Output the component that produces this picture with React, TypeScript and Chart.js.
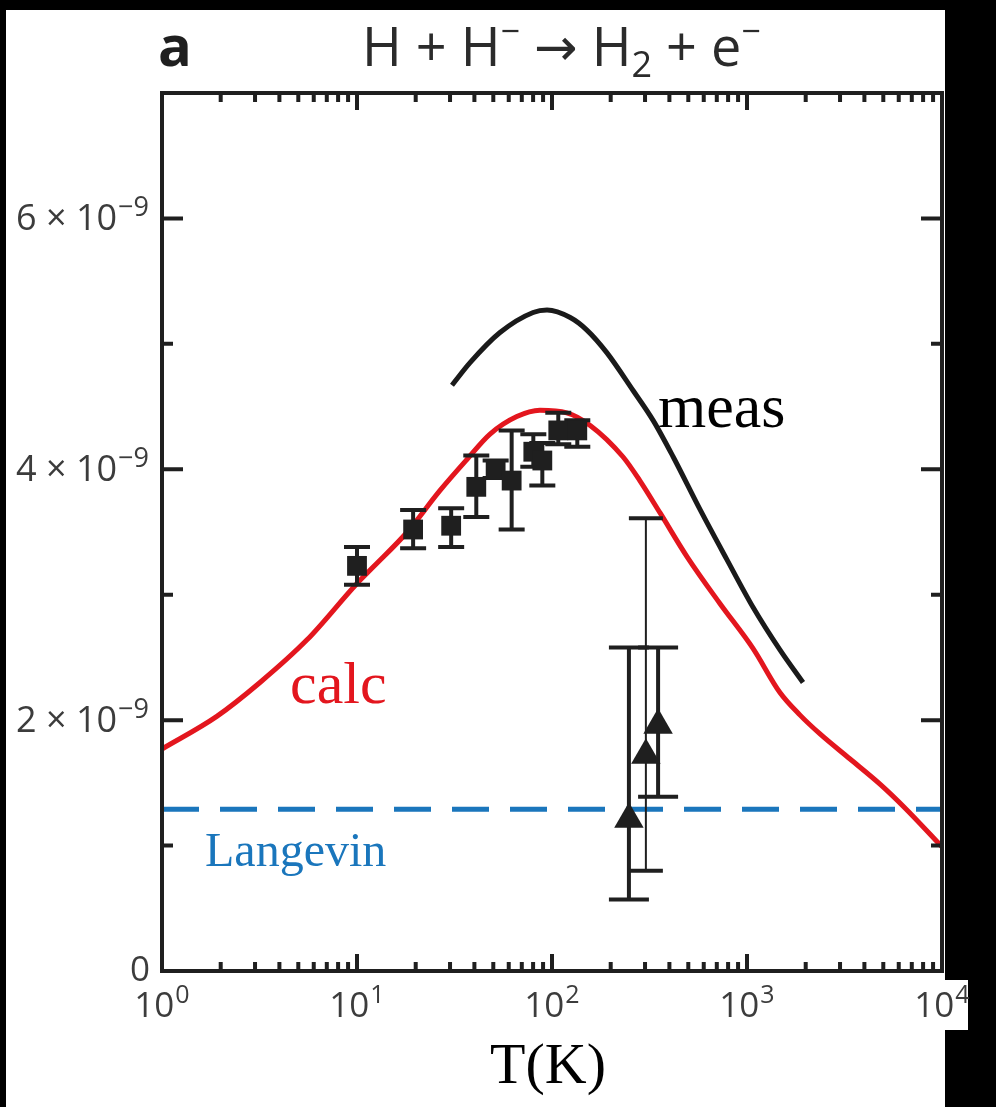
import React, { useEffect, useRef } from "react";
import { Chart, registerables } from "chart.js";

Chart.register(...registerables);

const W = 996;
const H = 1107;
const SANS = "'Open Sans', 'Noto Sans', sans-serif";
const SERIF = "'Liberation Serif', 'DejaVu Serif', serif";

// Rate coefficient in units of 1e-9 cm^3 s^-1 versus temperature T (K)
const calcT = [1, 1.91, 3.18, 5.54, 10, 12.1, 18.1, 26.6, 36.7, 48.1, 66, 86.7, 119, 157, 231, 282, 359, 494, 726, 1075, 1475, 1871, 2368, 3377, 4808, 6457, 10000];
const calcK = [1.77, 2.03, 2.3, 2.64, 3.09, 3.22, 3.5, 3.83, 4.08, 4.28, 4.42, 4.47, 4.45, 4.35, 4.1, 3.91, 3.65, 3.3, 2.93, 2.57, 2.22, 2.04, 1.89, 1.69, 1.49, 1.3, 0.99];

const measT = [30.7, 38, 54.1, 80, 94.3, 124, 151, 191, 260, 330, 418, 574, 789, 1074, 1476, 1937];
const measK = [4.67, 4.85, 5.09, 5.25, 5.27, 5.21, 5.11, 4.93, 4.63, 4.39, 4.1, 3.68, 3.28, 2.9, 2.56, 2.3];

const langevinT = [1, 10000];
const langevinK = 1.29;

// Merged-beam points (squares) with their error limits
const beamT = [10.0, 19.4, 30.4, 40.9, 51.4, 62.1, 80.2, 89.2, 107.7, 134.8];
const beamK = [3.23, 3.52, 3.55, 3.86, 4.0, 3.91, 4.14, 4.07, 4.31, 4.31];
const beamLo = [3.08, 3.37, 3.38, 3.62, 3.93, 3.52, 4.02, 3.87, 4.2, 4.18];
const beamHi = [3.38, 3.675, 3.69, 4.11, 4.07, 4.31, 4.28, 4.21, 4.45, 4.39];

// Flowing-afterglow points (triangles) with their error limits
const flowT = [248, 303, 350];
const flowK = [1.21, 1.72, 1.96];
const flowLo = [0.57, 0.8, 1.39];
const flowHi = [2.58, 3.61, 2.58];

// Axis ticks
const yMajorTicks = [0, 2, 4, 6];
const yMinorTicks = [1, 3, 5, 7];
const xDecades = [0, 1, 2, 3, 4];

const INK = "#1f1f1f";
const LABEL = "#3c3c3c";

const zip = (xs: number[], ys: number[]) => xs.map((x, i) => ({ x, y: ys[i] }));

function drawPower(
  ctx: CanvasRenderingContext2D,
  base: string,
  exp: string,
  x: number,
  y: number,
  align: "right" | "center",
  baseSize: number,
  expSize: number,
  rise: number
) {
  ctx.font = `${baseSize}px ${SANS}`;
  const bw = ctx.measureText(base).width;
  ctx.font = `${expSize}px ${SANS}`;
  const ew = ctx.measureText(exp).width;
  const gap = 1;
  const total = bw + gap + ew;
  const x0 = align === "right" ? x - total : x - total / 2;
  ctx.textAlign = "left";
  ctx.textBaseline = "alphabetic";
  ctx.font = `${baseSize}px ${SANS}`;
  ctx.fillText(base, x0, y);
  ctx.font = `${expSize}px ${SANS}`;
  ctx.fillText(exp, x0 + bw + gap, y - rise);
}

const backdrop = {
  id: "backdrop",
  beforeDraw(chart: any) {
    const ctx = chart.ctx as CanvasRenderingContext2D;
    ctx.save();
    ctx.fillStyle = "#000";
    ctx.fillRect(0, 0, W, H);
    ctx.fillStyle = "#fff";
    ctx.fillRect(6, 10, 939, H - 10);
    ctx.restore();
  },
};

const errorBars = {
  id: "errorBars",
  beforeDatasetDraw(chart: any, args: any) {
    const ds = chart.data.datasets[args.index];
    if (!ds.errLo) return;
    const ctx = chart.ctx as CanvasRenderingContext2D;
    const xs = chart.scales.x;
    const ys = chart.scales.y;
    ctx.save();
    ctx.strokeStyle = INK;
    ds.data.forEach((p: any, i: number) => {
      const px = xs.getPixelForValue(p.x);
      const lo = ys.getPixelForValue(ds.errLo[i]);
      const hi = ys.getPixelForValue(ds.errHi[i]);
      const c = ds.capHalf[i];
      ctx.lineWidth = ds.stemWidth[i];
      ctx.beginPath();
      ctx.moveTo(px, lo);
      ctx.lineTo(px, hi);
      ctx.stroke();
      ctx.lineWidth = 4;
      ctx.beginPath();
      ctx.moveTo(px - c, lo);
      ctx.lineTo(px + c, lo);
      ctx.moveTo(px - c, hi);
      ctx.lineTo(px + c, hi);
      ctx.stroke();
    });
    ctx.restore();
  },
};

const frame = {
  id: "frame",
  afterDatasetsDraw(chart: any) {
    const ctx = chart.ctx as CanvasRenderingContext2D;
    const { left, right, top, bottom } = chart.chartArea;
    const xs = chart.scales.x;
    const ys = chart.scales.y;
    ctx.save();
    ctx.strokeStyle = INK;
    ctx.lineWidth = 4;
    ctx.strokeRect(left, top, right - left, bottom - top);

    ctx.beginPath();
    const yTick = (v: number, len: number) => {
      const py = ys.getPixelForValue(v);
      ctx.moveTo(left, py);
      ctx.lineTo(left + len, py);
      ctx.moveTo(right, py);
      ctx.lineTo(right - len, py);
    };
    yMajorTicks.forEach((v) => yTick(v, 21));
    yMinorTicks.forEach((v) => yTick(v, 11));
    const xTick = (v: number, len: number) => {
      const px = xs.getPixelForValue(v);
      ctx.moveTo(px, bottom);
      ctx.lineTo(px, bottom - len);
      ctx.moveTo(px, top);
      ctx.lineTo(px, top + len);
    };
    xDecades.forEach((d, i) => {
      const dv = Math.pow(10, d);
      xTick(dv, 17);
      if (i < xDecades.length - 1) {
        for (let m = 2; m <= 9; m++) xTick(m * dv, 9);
      }
    });
    ctx.stroke();
    ctx.restore();
  },
  afterDraw(chart: any) {
    const ctx = chart.ctx as CanvasRenderingContext2D;
    const xs = chart.scales.x;
    const ys = chart.scales.y;
    ctx.save();

    // paper behind the last x label, which reaches past the frame
    ctx.fillStyle = "#fff";
    ctx.fillRect(940, 980, 28, 50);

    ctx.fillStyle = LABEL;
    // y tick labels
    yMajorTicks.forEach((v) => {
      const py = ys.getPixelForValue(v);
      if (v === 0) {
        ctx.font = `35px ${SANS}`;
        ctx.textAlign = "right";
        ctx.textBaseline = "alphabetic";
        ctx.fillText("0", 150, py + 10);
      } else {
        drawPower(ctx, `${v} \u00d7 10`, "\u22129", 149, py + 12, "right", 36, 27, 14);
      }
    });

    // x tick labels
    xDecades.forEach((d) => {
      const px = xs.getPixelForValue(Math.pow(10, d));
      drawPower(ctx, "10", String(d), px, 1017, "center", 35, 25, 14);
    });

    // axis title
    ctx.fillStyle = "#000";
    ctx.font = `58px ${SERIF}`;
    ctx.textAlign = "center";
    ctx.textBaseline = "alphabetic";
    ctx.fillText("T(K)", 548, 1083);

    // panel letter
    ctx.fillStyle = INK;
    ctx.font = `bold 56px ${SANS}`;
    ctx.textAlign = "left";
    ctx.fillText("a", 158, 66);

    // reaction
    ctx.fillStyle = "#2b2b2b";
    const parts: [string, string][] = [
      ["H + H", "n"],
      ["\u2212", "sup"],
      [" ", "n"],
      ["\u2192", "arrow"],
      [" H", "n"],
      ["2", "sub"],
      [" + e", "n"],
      ["\u2212", "sup"],
    ];
    let tx = 362;
    const ty = 66;
    parts.forEach(([t, k]) => {
      let font = `54px ${SANS}`;
      let dy = 0;
      if (k === "sup") {
        font = `34px ${SANS}`;
        dy = -23;
      } else if (k === "sub") {
        font = `36px ${SANS}`;
        dy = 11;
      } else if (k === "arrow") {
        font = `52px 'DejaVu Sans', sans-serif`;
        dy = -1;
      }
      ctx.font = font;
      ctx.fillText(t, tx, ty + dy);
      tx += ctx.measureText(t).width;
    });

    // curve annotations
    ctx.font = `62px ${SERIF}`;
    ctx.fillStyle = "#000";
    ctx.fillText("meas", 658, 427);
    ctx.font = `60px ${SERIF}`;
    ctx.fillStyle = "#e3161e";
    ctx.fillText("calc", 290, 703);
    ctx.font = `48px ${SERIF}`;
    ctx.fillStyle = "#1a76bc";
    ctx.fillText("Langevin", 205, 866);
    ctx.restore();
  },
};

export default function App() {
  const ref = useRef<HTMLCanvasElement>(null);

  useEffect(() => {
    const canvas = ref.current;
    if (!canvas) return;
    const chart = new Chart(canvas, {
      type: "line",
      data: {
        datasets: [
          {
            type: "scatter",
            label: "beam",
            data: zip(beamT, beamK),
            pointStyle: "rect",
            pointRadius: 14,
            pointBackgroundColor: INK,
            pointBorderWidth: 0,
            errLo: beamLo,
            errHi: beamHi,
            capHalf: beamT.map(() => 13),
            stemWidth: beamT.map(() => 4),
          } as any,
          {
            type: "scatter",
            label: "afterglow",
            data: zip(flowT, flowK),
            pointStyle: "triangle",
            pointRadius: 17,
            pointBackgroundColor: INK,
            pointBorderWidth: 0,
            errLo: flowLo,
            errHi: flowHi,
            capHalf: [20, 17, 20],
            stemWidth: [4, 2, 4],
          } as any,
          {
            label: "calc",
            data: zip(calcT, calcK),
            borderColor: "#e3161e",
            borderWidth: 5,
            pointRadius: 0,
            cubicInterpolationMode: "monotone",
          },
          {
            label: "meas",
            data: zip(measT, measK),
            borderColor: "#1a1a1a",
            borderWidth: 5,
            pointRadius: 0,
            cubicInterpolationMode: "monotone",
          },
          {
            label: "Langevin",
            data: langevinT.map((x) => ({ x, y: langevinK })),
            borderColor: "#1a76bc",
            borderWidth: 5,
            borderDash: [37, 21],
            pointRadius: 0,
          },
        ],
      },
      options: {
        responsive: false,
        animation: false,
        devicePixelRatio: 1,
        layout: { padding: { left: 162, top: 93, right: W - 942, bottom: H - 971 } },
        scales: {
          x: { type: "logarithmic", min: 1, max: 10000, display: false },
          y: { type: "linear", min: 0, max: 7, display: false },
        },
        plugins: {
          legend: { display: false },
          tooltip: { enabled: false },
        },
      },
      plugins: [backdrop, errorBars, frame],
    });
    return () => chart.destroy();
  }, []);

  return (
    <div style={{ position: "absolute", left: 0, top: 0, width: W, height: H, background: "#000" }}>
      <canvas ref={ref} width={W} height={H} style={{ display: "block", width: W, height: H }} />
    </div>
  );
}
